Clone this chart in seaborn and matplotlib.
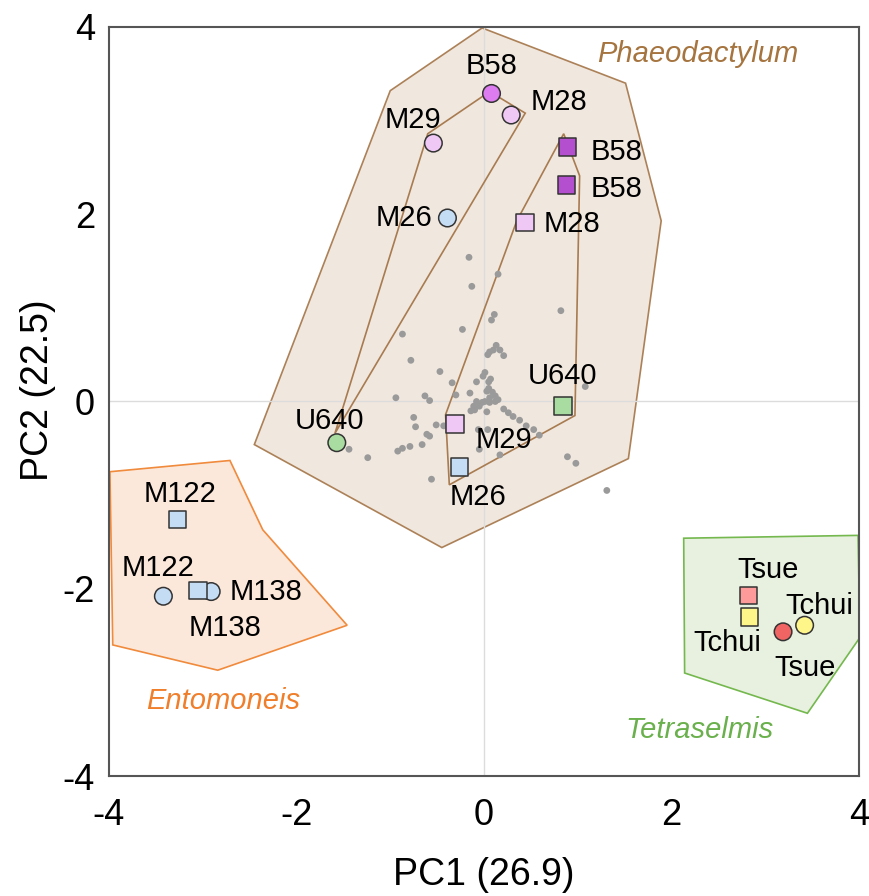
import numpy as np
import pandas as pd
import matplotlib
matplotlib.use("Agg")
import matplotlib.pyplot as plt
import seaborn as sns
from matplotlib.patches import Polygon

# ---------------- data ----------------
strain_labels = ["B58", "M28", "M29", "M26", "U640", "M122", "M138", "Tsue", "Tchui",
                 "B58", "B58", "M28", "U640", "M29", "M26", "M122", "M138", "Tsue", "Tchui"]
marker_shape = ["circle"] * 9 + ["square"] * 10
pc1_strain = [0.08, 0.29, -0.54, -0.39, -1.57, -3.42, -2.91, 3.19, 3.42,
              0.89, 0.88, 0.44, 0.84, -0.31, -0.26, -3.27, -3.05, 2.82, 2.83]
pc2_strain = [3.29, 3.06, 2.76, 1.96, -0.44, -2.08, -2.03, -2.46, -2.39,
              2.72, 2.31, 1.91, -0.05, -0.24, -0.70, -1.26, -2.02, -2.07, -2.30]
strain_colors = ["#dd7cf0", "#f0c8f5", "#f0c8f5", "#c5dcf5", "#a8dca0", "#c5dcf5", "#c5dcf5", "#f06464", "#fff68a",
                 "#b44fd0", "#b44fd0", "#f0c8f5", "#a8dca0", "#f0c8f5", "#c5dcf5", "#c5dcf5", "#c5dcf5", "#ff9a9a", "#fff68a"]

# variable loadings (grey dots)
pc1_var = [-0.16, 0.15, -0.13, 0.11, 0.08, -0.23, 0.82, -0.87, -0.78, -0.47, -0.34, -0.94,
           -0.63, -0.58, -0.30, -0.15, -0.08, 0.01, -0.01, 0.05, 0.07, 0.04, 0.06, 0.10,
           0.13, 0.17, 0.21, 0.05, 0.09, 0.12, 0.06, 0.03, -0.08, -0.02, -0.05, -0.10,
           -0.14, 0.01, 0.06, 0.12, 0.15, 0.03, 0.21, 0.26, 0.31, 0.38, 0.45, 0.53,
           0.59, -0.75, -0.73, -0.51, -0.43, -0.61, -0.58, -0.66, -0.79, -0.87, -0.92,
           -1.44, -1.24, -0.05, 0.17, -0.56, 1.08, 0.89, 0.98, 1.31, -0.06, 0.04, -0.11]
pc2_var = [1.54, 1.36, 1.23, 0.93, 0.87, 0.77, 0.97, 0.72, 0.44, 0.32, 0.20, 0.04,
           0.06, 0.01, 0.07, 0.09, 0.21, 0.31, 0.27, 0.21, 0.24, 0.50, 0.53, 0.55,
           0.60, 0.55, 0.49, 0.14, 0.10, 0.06, 0.04, 0.11, 0.00, -0.01, -0.05, -0.09,
           -0.10, 0.00, -0.01, 0.00, 0.02, -0.11, -0.08, -0.12, -0.16, -0.20, -0.26, -0.30,
           -0.36, -0.17, -0.27, -0.25, -0.26, -0.35, -0.37, -0.46, -0.48, -0.50, -0.53,
           -0.51, -0.60, -0.51, -0.57, -0.83, 0.16, -0.59, -0.66, -0.95, -0.30, -0.30, -0.05]

# group hulls
phaeo_hull_x = [-0.02, 1.51, 1.89, 1.54, -0.45, -2.45, -1.00]
phaeo_hull_y = [3.99, 3.40, 1.93, -0.61, -1.56, -0.46, 3.32]
phaeo_circle_hull_x = [0.06, 0.44, -1.59, -0.60]
phaeo_circle_hull_y = [3.31, 3.08, -0.34, 2.86]
phaeo_square_hull_x = [0.85, 1.02, 0.97, -0.37, -0.41, 0.35]
phaeo_square_hull_y = [2.86, 2.41, -0.15, -0.89, -0.14, 1.93]
ento_hull_x = [-3.99, -2.71, -2.36, -1.46, -2.84, -3.96]
ento_hull_y = [-0.75, -0.63, -1.37, -2.39, -2.87, -2.60]
tetra_hull_x = [2.13, 3.99, 4.01, 3.45, 2.14]
tetra_hull_y = [-1.46, -1.43, -2.52, -3.33, -2.90]

group_names = ["Phaeodactylum", "Entomoneis", "Tetraselmis"]
axis_ticks = [-4, -2, 0, 2, 4]

# ---------------- styling ----------------
sns.set_style("white")
plt.rcParams["font.family"] = ["Liberation Sans", "DejaVu Sans"]
plt.rcParams["axes.unicode_minus"] = False
plt.rcParams["text.color"] = "black"
plt.rcParams["axes.labelcolor"] = "black"
plt.rcParams["xtick.labelcolor"] = "black"
plt.rcParams["ytick.labelcolor"] = "black"

fig = plt.figure(figsize=(8.7, 8.96), dpi=100)
ax = fig.add_axes([109 / 870, 1 - 776 / 896, 750 / 870, 749 / 896])
ax.set_xlim(-4, 4)
ax.set_ylim(-4, 4)

# reference lines
ax.axhline(0, color="#dcdcdc", lw=1, zorder=2)
ax.axvline(0, color="#dcdcdc", lw=1, zorder=2)

# hull polygons
ax.add_patch(Polygon(np.column_stack([phaeo_hull_x, phaeo_hull_y]), closed=True,
                     facecolor="#f0e6dd", edgecolor="#a87b50", lw=1.2, alpha=0.95, zorder=1))
ax.add_patch(Polygon(np.column_stack([phaeo_circle_hull_x, phaeo_circle_hull_y]), closed=True,
                     facecolor="none", edgecolor="#a87b50", lw=1.2, zorder=3))
ax.add_patch(Polygon(np.column_stack([phaeo_square_hull_x, phaeo_square_hull_y]), closed=True,
                     facecolor="none", edgecolor="#a87b50", lw=1.2, zorder=3))
ax.add_patch(Polygon(np.column_stack([ento_hull_x, ento_hull_y]), closed=True,
                     facecolor="#fce8da", edgecolor="#f08a3c", lw=1.2, zorder=1))
ax.add_patch(Polygon(np.column_stack([tetra_hull_x, tetra_hull_y]), closed=True,
                     facecolor="#e8f0e0", edgecolor="#74b84e", lw=1.2, zorder=1))

# grey variable dots
var_df = pd.DataFrame({"PC1": pc1_var, "PC2": pc2_var})
sns.scatterplot(data=var_df, x="PC1", y="PC2", color="#9a9a9a", s=24,
                edgecolor="none", ax=ax, zorder=4, legend=False)

# strain markers
strain_df = pd.DataFrame({"PC1": pc1_strain, "PC2": pc2_strain, "strain": strain_labels,
                          "shape": marker_shape, "fill": strain_colors})
palette = {c: c for c in strain_colors}
sns.scatterplot(data=strain_df, x="PC1", y="PC2", hue="fill", palette=palette,
                style="shape", markers={"circle": "o", "square": "s"}, s=160,
                edgecolor="#333333", linewidth=1.1, ax=ax, zorder=5, legend=False)

# label offsets in pixels (dx, dy, ha)
label_offsets = [(0, 30, "center"), (19, 16, "left"), (-20, 26, "center"), (-15, 3, "right"),
                 (-7, 25, "center"), (-5, 31, "center"), (18, 3, "left"), (22, -33, "center"),
                 (15, 22, "center"),
                 (23, -2, "left"), (24, -1, "left"), (18, 2, "left"), (0, 33, "center"),
                 (21, -13, "left"), (18, -27, "center"), (3, 28, "center"), (27, -34, "center"),
                 (20, 28, "center"), (-22, -23, "center")]
for x, y, lab, (dx, dy, ha) in zip(pc1_strain, pc2_strain, strain_labels, label_offsets):
    ax.annotate(lab, (x, y), xytext=(dx, dy), textcoords="offset pixels",
                ha=ha, va="center_baseline", fontsize=21, color="black", zorder=6)

# group names
ax.text(2.28, 3.74, group_names[0], fontsize=21, style="italic", color="#a5743f",
        ha="center", va="center_baseline", zorder=6)
ax.text(-2.78, -3.17, group_names[1], fontsize=21, style="italic", color="#f07f2c",
        ha="center", va="center_baseline", zorder=6)
ax.text(2.3, -3.48, group_names[2], fontsize=21, style="italic", color="#6ab04c",
        ha="center", va="center_baseline", zorder=6)

# axes styling
ax.set_xticks(axis_ticks)
ax.set_yticks(axis_ticks)
ax.set_xticklabels([str(t) for t in axis_ticks])
ax.set_yticklabels([str(t) for t in axis_ticks])
ax.tick_params(direction="in", length=6, width=1, color="#555555", labelsize=26,
               labelcolor="black")
ax.tick_params(axis="x", pad=16)
ax.tick_params(axis="y", pad=10)
for sp in ax.spines.values():
    sp.set_color("#555555")
    sp.set_linewidth(1.5)
ax.set_xlabel("PC1 (26.9)", fontsize=27, color="black")
ax.set_ylabel("PC2 (22.5)", fontsize=27, color="black")
ax.xaxis.set_label_coords(0.5, -0.108)
ax.yaxis.set_label_coords(-0.07, 0.515)

fig.savefig("out.png", dpi=100)
